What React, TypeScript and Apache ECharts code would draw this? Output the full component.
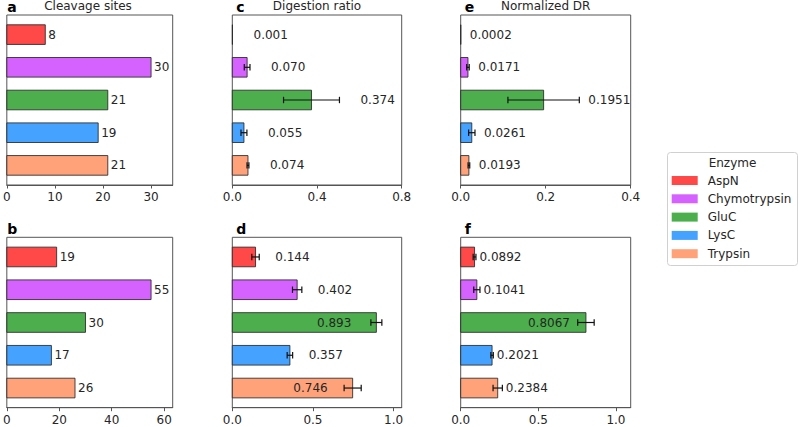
import React, { useEffect, useRef } from "react";
import * as echarts from "echarts";

// Enzymes and their colours
const enzymes = ["AspN", "Chymotrypsin", "GluC", "LysC", "Trypsin"];
const enzymeColors = ["#ff4848", "#d562ff", "#4cae4c", "#45a3ff", "#ffa27a"];

// Panel a / b: number of cleavage sites
const cleavageSitesA = [8, 30, 21, 19, 21];
const cleavageSitesB = [19, 55, 30, 17, 26];

// Panel c / d: digestion ratio (mean, error)
const digestionRatioC = [0.001, 0.07, 0.374, 0.055, 0.074];
const digestionRatioErrC = [0, 0.0135, 0.132, 0.014, 0.0045];
const digestionRatioD = [0.144, 0.402, 0.893, 0.357, 0.746];
const digestionRatioErrD = [0.023, 0.029, 0.034, 0.017, 0.053];

// Panel e / f: normalized digestion ratio (mean, error)
const normalizedDrE = [0.0002, 0.0171, 0.1951, 0.0261, 0.0193];
const normalizedDrErrE = [0, 0.003, 0.084, 0.0075, 0.002];
const normalizedDrF = [0.0892, 0.1041, 0.8067, 0.2021, 0.2384];
const normalizedDrErrF = [0.009, 0.02, 0.053, 0.008, 0.03];

// Tick values of each panel's x axis
const ticksA = [0, 10, 20, 30];
const ticksB = [0, 20, 40, 60];
const ticksC = [0, 0.4, 0.8];
const ticksD = [0, 0.5, 1.0];
const ticksE = [0, 0.2, 0.4];
const ticksF = [0, 0.5, 1.0];

const FONT = '"DejaVu Sans", "Noto Sans", sans-serif';
const TEXT = "#262626";
const SPINE = "#555";
const BAR_HALF = 0.3;

type Panel = {
  letter: string;
  title: string;
  values: number[];
  errors: number[] | null;
  ticks: number[];
  max: number;
  tickDecimals: number;
  labelDecimals: number;
  padOut: number;
  padIn: number;
  rect: { left: number; top: number; width: number; height: number };
};

const panels: Panel[] = [
  {
    letter: "a", title: "Cleavage sites", values: cleavageSitesA, errors: null,
    ticks: ticksA, max: 34.5, tickDecimals: 0, labelDecimals: 0, padOut: 3, padIn: 0,
    rect: { left: 3.3, top: 15, width: 169.4, height: 170 },
  },
  {
    letter: "c", title: "Digestion ratio", values: digestionRatioC, errors: digestionRatioErrC,
    ticks: ticksC, max: 0.8, tickDecimals: 1, labelDecimals: 3, padOut: 21, padIn: 25,
    rect: { left: 232.3, top: 15, width: 169.4, height: 170 },
  },
  {
    letter: "e", title: "Normalized DR", values: normalizedDrE, errors: normalizedDrErrE,
    ticks: ticksE, max: 0.4, tickDecimals: 1, labelDecimals: 4, padOut: 9, padIn: 16,
    rect: { left: 460.7, top: 15, width: 170, height: 170 },
  },
  {
    letter: "b", title: "", values: cleavageSitesB, errors: null,
    ticks: ticksB, max: 63.25, tickDecimals: 0, labelDecimals: 0, padOut: 3, padIn: 0,
    rect: { left: 3.3, top: 237.3, width: 169.4, height: 170.4 },
  },
  {
    letter: "d", title: "", values: digestionRatioD, errors: digestionRatioErrD,
    ticks: ticksD, max: 1.05, tickDecimals: 1, labelDecimals: 3, padOut: 16, padIn: 25,
    rect: { left: 232.3, top: 237.3, width: 169.4, height: 170.4 },
  },
  {
    letter: "f", title: "", values: normalizedDrF, errors: normalizedDrErrF,
    ticks: ticksF, max: 1.095, tickDecimals: 1, labelDecimals: 4, padOut: 3.5, padIn: 16,
    rect: { left: 460.7, top: 237.3, width: 170, height: 170.4 },
  },
];

// Approximate DejaVu Sans advance widths for numeric labels
function textWidth(s: string, size: number) {
  let w = 0;
  for (const ch of s) w += ch === "." ? 0.318 : 0.636;
  return w * size;
}

function makeRenderItem(panel: Panel) {
  return (params: any, api: any) => {
    const v = api.value(0) as number;
    const j = api.value(1) as number;
    const e = api.value(2) as number;
    const color = api.visual("color");
    const cs = params.coordSys;
    const [x0, yA] = api.coord([0, j - BAR_HALF]);
    const [x1, yB] = api.coord([v, j + BAR_HALF]);
    const yc = api.coord([v, j])[1];
    const children: any[] = [
      {
        type: "rect",
        shape: { x: x0, y: Math.min(yA, yB), width: x1 - x0, height: Math.abs(yB - yA) },
        style: { fill: color, stroke: "rgba(40,40,40,0.85)", lineWidth: 1 },
      },
    ];
    let endX = x1;
    let lowX = x1;
    if (e > 0) {
      const ex0 = api.coord([v - e, j])[0];
      const ex1 = api.coord([v + e, j])[0];
      endX = ex1;
      lowX = ex0;
      const errStyle = { stroke: "#111", lineWidth: 1.2 };
      children.push(
        { type: "line", shape: { x1: ex0, y1: yc, x2: ex1, y2: yc }, style: errStyle },
        { type: "line", shape: { x1: ex0, y1: yc - 3.2, x2: ex0, y2: yc + 3.2 }, style: errStyle },
        { type: "line", shape: { x1: ex1, y1: yc - 3.2, x2: ex1, y2: yc + 3.2 }, style: errStyle },
      );
    }
    const label = v.toFixed(panel.labelDecimals);
    const w = textWidth(label, 12);
    const right = cs.x + cs.width;
    const outside = endX + panel.padOut + w <= right + 4;
    const tx = outside ? endX + panel.padOut : x1 - panel.padIn;
    void lowX;
    children.push({
      type: "text",
      x: tx,
      y: yc,
      style: {
        text: label,
        fill: TEXT,
        fontSize: 12,
        fontFamily: FONT,
        align: outside ? "left" : "right",
        verticalAlign: "middle",
        textAlign: outside ? "left" : "right",
        textVerticalAlign: "middle",
      },
    });
    return { type: "group", children };
  };
}

export default function App() {
  const ref = useRef<HTMLDivElement>(null);

  useEffect(() => {
    if (!ref.current) return;
    const chart = echarts.init(ref.current, undefined, { renderer: "svg" });

    const series: any[] = [];
    panels.forEach((p, i) => {
      enzymes.forEach((name, j) => {
        series.push({
          type: "custom",
          name,
          xAxisIndex: i,
          yAxisIndex: i,
          itemStyle: { color: enzymeColors[j] },
          encode: { x: 0, y: 1 },
          data: [[p.values[j], j, p.errors ? p.errors[j] : 0]],
          renderItem: makeRenderItem(p),
        });
      });
    });

    const graphics: any[] = [];
    panels.forEach((p) => {
      const r = p.rect;
      graphics.push({
        type: "text",
        x: r.left + 4,
        y: r.top - 8.5,
        style: {
          text: p.letter,
          fill: "#000",
          fontSize: 14,
          fontWeight: "bold",
          fontFamily: FONT,
          align: "left",
          verticalAlign: "middle",
          textAlign: "left",
          textVerticalAlign: "middle",
        },
      });
      if (p.title) {
        graphics.push({
          type: "text",
          x: r.left + r.width / 2,
          y: 6,
          style: {
            text: p.title,
            fill: TEXT,
            fontSize: 12,
            fontFamily: FONT,
            align: "center",
            verticalAlign: "middle",
            textAlign: "center",
            textVerticalAlign: "middle",
          },
        });
      }
    });
    // Legend frame and heading
    graphics.push(
      {
        type: "rect",
        z: 0,
        shape: { x: 667.5, y: 152.5, width: 130, height: 113, r: 3 },
        style: { fill: "#fff", stroke: "#d0d0d0", lineWidth: 1 },
      },
      {
        type: "text",
        x: 732.5,
        y: 163,
        style: {
          text: "Enzyme",
          fill: TEXT,
          fontSize: 12,
          fontFamily: FONT,
          align: "center",
          verticalAlign: "middle",
          textAlign: "center",
          textVerticalAlign: "middle",
        },
      },
    );

    chart.setOption({
      animation: false,
      backgroundColor: "#fff",
      grid: panels.map((p) => ({
        ...p.rect,
        show: true,
        borderColor: SPINE,
        borderWidth: 1,
        backgroundColor: "transparent",
        containLabel: false,
      })),
      xAxis: panels.map((p, i) => ({
        type: "value",
        gridIndex: i,
        min: 0,
        max: p.max,
        axisLine: { show: true, onZero: false, lineStyle: { color: SPINE, width: 1 } },
        axisTick: { show: true, length: 3.5, lineStyle: { color: SPINE }, customValues: p.ticks },
        axisLabel: {
          customValues: p.ticks,
          formatter: (val: number) => val.toFixed(p.tickDecimals),
          fontSize: 12,
          fontFamily: FONT,
          color: TEXT,
          margin: 6,
        },
        splitLine: { show: false },
      })),
      yAxis: panels.map((_p, i) => ({
        type: "value",
        gridIndex: i,
        min: -0.6,
        max: 4.6,
        inverse: true,
        show: false,
        splitLine: { show: false },
      })),
      legend: {
        orient: "vertical",
        left: 671.7,
        top: 173.5,
        padding: 0,
        itemWidth: 26,
        itemHeight: 9,
        itemGap: 4.3,
        icon: "rect",
        data: enzymes,
        textStyle: {
          fontSize: 12,
          fontFamily: FONT,
          color: TEXT,
          lineHeight: 14,
          padding: [0, 0, 0, 5],
        },
      },
      graphic: graphics,
      series,
    });

    return () => chart.dispose();
  }, []);

  return (
    <div
      ref={ref}
      style={{ position: "fixed", left: 0, top: 0, width: 799, height: 427 }}
    />
  );
}
